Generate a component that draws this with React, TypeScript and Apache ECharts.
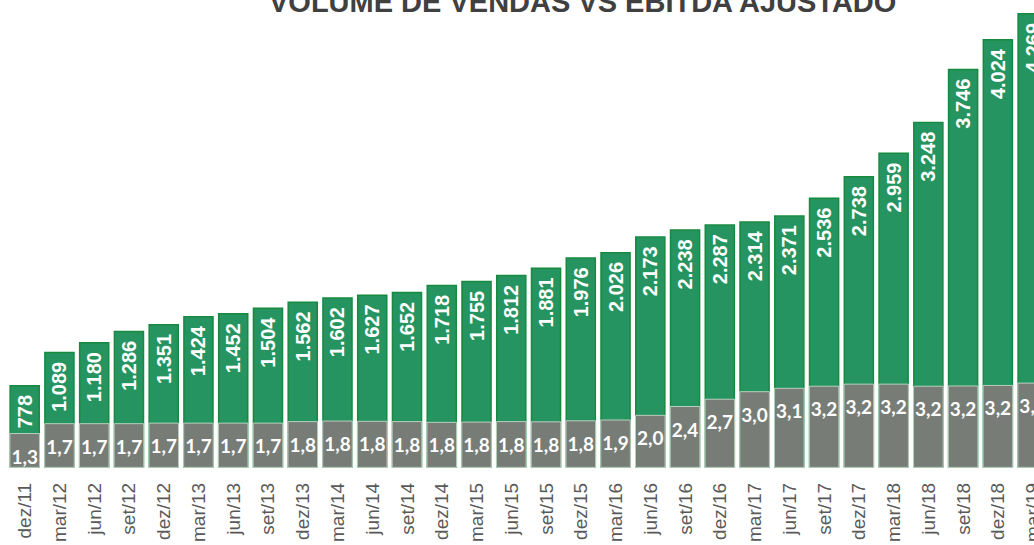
import React, { useEffect, useRef } from "react";
import * as echarts from "echarts";

const titleText = "VOLUME DE VENDAS VS EBITDA AJUSTADO";

const categories = [
  "dez/11", "mar/12", "jun/12", "set/12", "dez/12", "mar/13", "jun/13", "set/13",
  "dez/13", "mar/14", "jun/14", "set/14", "dez/14", "mar/15", "jun/15", "set/15",
  "dez/15", "mar/16", "jun/16", "set/16", "dez/16", "mar/17", "jun/17", "set/17",
  "dez/17", "mar/18", "jun/18", "set/18", "dez/18", "mar/19",
];

const salesVolume = [
  778, 1089, 1180, 1286, 1351, 1424, 1452, 1504,
  1562, 1602, 1627, 1652, 1718, 1755, 1812, 1881,
  1976, 2026, 2173, 2238, 2287, 2314, 2371, 2536,
  2738, 2959, 3248, 3746, 4024, 4269,
];

const ebitdaAdjusted = [
  1.34, 1.72, 1.72, 1.72, 1.74, 1.74, 1.74, 1.74,
  1.8, 1.82, 1.81, 1.8, 1.77, 1.78, 1.8, 1.79,
  1.83, 1.86, 2.04, 2.38, 2.66, 2.95, 3.08, 3.16,
  3.24, 3.24, 3.16, 3.17, 3.19, 3.28,
];

const fmtThousands = (v: number) =>
  String(Math.round(v)).replace(/\B(?=(\d{3})+(?!\d))/g, ".");
const fmtDecimal = (v: number) => v.toFixed(1).replace(".", ",");

export default function App() {
  const ref = useRef<HTMLDivElement>(null);

  useEffect(() => {
    if (!ref.current) return;
    const chart = echarts.init(ref.current, undefined, { renderer: "svg" });
    chart.setOption({
      animation: false,
      backgroundColor: "#ffffff",
      title: {
        text: titleText,
        left: 269,
        top: -13,
        padding: 0,
        textStyle: {
          fontFamily: "Liberation Sans, Arial, sans-serif",
          fontWeight: "bold",
          fontSize: 29,
          color: "#404040",
        },
      },
      grid: { left: 7.3, right: 0, top: 0, bottom: 74, containLabel: false },
      xAxis: {
        type: "category",
        data: categories,
        axisLine: { show: false },
        axisTick: { show: false },
        axisLabel: {
          interval: 0,
          rotate: 90,
          margin: 15,
          fontSize: 19,
          fontFamily: "Liberation Sans, Arial, sans-serif",
          color: "#595959",
        },
      },
      yAxis: [
        { type: "value", min: 0, max: 4390, show: false, splitLine: { show: false } },
        { type: "value", min: 0, max: 18, show: false, splitLine: { show: false } },
      ],
      series: [
        {
          name: "Volume de vendas",
          type: "bar",
          yAxisIndex: 0,
          data: salesVolume,
          barCategoryGap: "12%",
          barGap: "-100%",
          itemStyle: { color: "#269460", borderColor: "#178a40", borderWidth: 1.5 },
          label: {
            show: true,
            position: "insideTop",
            distance: 10,
            rotate: 90,
            align: "right",
            verticalAlign: "middle",
            formatter: (p: any) => fmtThousands(p.value),
            color: "#ffffff",
            fontWeight: "bold",
            fontSize: 20,
            fontFamily: "Liberation Sans, Arial, sans-serif",
          },
        },
        {
          name: "EBITDA ajustado",
          type: "bar",
          yAxisIndex: 1,
          data: ebitdaAdjusted,
          barCategoryGap: "12%",
          barGap: "-100%",
          itemStyle: {
            color: "#777c77",
            borderColor: "rgba(210,225,210,0.8)",
            borderWidth: 1,
          },
          label: {
            show: true,
            position: "insideTop",
            distance: 12,
            formatter: (p: any) => fmtDecimal(p.value),
            color: "#ffffff",
            fontWeight: "bold",
            fontSize: 19,
            lineHeight: 22,
            fontFamily: "Lato, sans-serif",
          },
        },
      ],
    });
    return () => chart.dispose();
  }, []);

  return (
    <div
      style={{
        position: "fixed",
        left: 0,
        top: 0,
        width: 1034,
        height: 545,
        overflow: "hidden",
        background: "#ffffff",
      }}
    >
      <div ref={ref} style={{ width: 1049.5, height: 545 }} />
    </div>
  );
}
